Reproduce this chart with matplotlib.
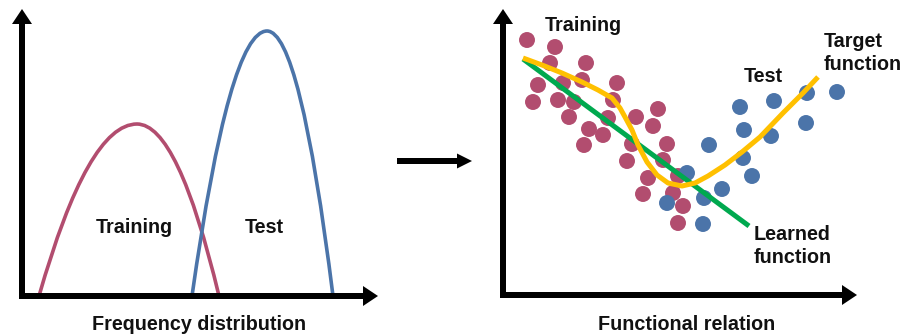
import matplotlib
matplotlib.use("Agg")
import matplotlib.pyplot as plt
from matplotlib.path import Path
from matplotlib.patches import PathPatch

# ---------------- data (diagram units = pixels, y downwards) ----------------
# Left panel: frequency distributions (start, peak, end of each bump)
train_dist = [(39, 296), (137, 124), (219, 296)]
test_dist = [(192, 296), (267, 31), (333, 296)]

# Right panel: training / test samples
train_x = [527, 555, 550, 586, 538, 563, 582, 617, 533, 558, 574, 613, 569, 608,
           636, 658, 589, 603, 653, 584, 632, 667, 627, 663, 648, 678, 643, 673,
           683, 678]
train_y = [40, 47, 63, 63, 85, 83, 80, 83, 102, 100, 102, 100, 117, 118,
           117, 109, 129, 135, 126, 145, 144, 144, 161, 160, 178, 176, 194, 193,
           206, 223]
test_x = [687, 667, 704, 703, 709, 722, 740, 744, 743, 752, 774, 771, 807, 806, 837]
test_y = [173, 203, 198, 224, 145, 189, 107, 130, 158, 176, 101, 136, 93, 123, 92]

# Target function (yellow) and learned function (green)
target_x = [523, 542, 562, 582, 598, 612, 620, 625, 632, 638, 647, 657, 668, 682,
            695, 708, 725, 742, 760, 783, 803, 818]
target_y = [58, 65, 73, 82, 90, 98, 108, 117, 130, 145, 162, 175, 183, 186,
            183, 176, 165, 152, 137, 113, 93, 77]
learned_x = [523, 749]
learned_y = [59, 226]

PINK = "#B24D6F"
BLUE = "#4B74A9"
GOLD = "#FFC000"
GREEN = "#00A94F"

W, H = 913, 334
fig = plt.figure(figsize=(W / 100, H / 100), dpi=100)
ax = fig.add_axes([0, 0, 1, 1])
ax.set_xlim(0, W)
ax.set_ylim(H, 0)
ax.axis("off")

FONT = dict(family=["Liberation Sans", "DejaVu Sans"], fontweight="bold",
            fontsize=14.2, color="#111111")


def bump(pts, color):
    (x0, y0), (xp, yp), (x1, y1) = pts
    verts = [(x0, y0), ((x0 + xp) / 2, yp), (xp, yp), ((xp + x1) / 2, yp), (x1, y1)]
    codes = [Path.MOVETO, Path.CURVE3, Path.CURVE3, Path.CURVE3, Path.CURVE3]
    ax.add_patch(PathPatch(Path(verts, codes), fill=False, edgecolor=color,
                           lw=2.6, zorder=2))


bump(train_dist, PINK)
bump(test_dist, BLUE)


def arrow(x, y, dx, dy, hw=20, hl=15, w=6):
    ax.arrow(x, y, dx, dy, width=w, head_width=hw, head_length=hl,
             length_includes_head=True, color="black", zorder=5, lw=0)


# Left axes
arrow(22, 299, 0, -290)
arrow(19, 296, 359, 0)
# Right axes
arrow(503, 298, 0, -289)
arrow(500, 295, 357, 0)
# Middle arrow
arrow(397, 161, 75, 0, hw=15, hl=15, w=6)

# Right panel marks
ax.scatter(train_x, train_y, s=132, color=PINK, edgecolors="none", zorder=3)
ax.scatter(test_x, test_y, s=132, color=BLUE, edgecolors="none", zorder=3)
ax.plot(learned_x, learned_y, color=GREEN, lw=3.6, solid_capstyle="butt", zorder=4)
ax.plot(target_x, target_y, color=GOLD, lw=3.6, solid_capstyle="butt",
        solid_joinstyle="round", zorder=4)

# Texts
ax.text(134, 233, "Training", ha="center", va="baseline", **FONT)
ax.text(264, 233, "Test", ha="center", va="baseline", **FONT)
ax.text(199, 330, "Frequency distribution", ha="center", va="baseline", **FONT)

ax.text(583, 31, "Training", ha="center", va="baseline", **FONT)
ax.text(763, 82, "Test", ha="center", va="baseline", **FONT)
ax.text(824, 47, "Target", ha="left", va="baseline", **FONT)
ax.text(824, 70, "function", ha="left", va="baseline", **FONT)
ax.text(754, 240, "Learned", ha="left", va="baseline", **FONT)
ax.text(754, 263, "function", ha="left", va="baseline", **FONT)
ax.text(687, 330, "Functional relation", ha="center", va="baseline", **FONT)

fig.savefig("out.png", dpi=100)
